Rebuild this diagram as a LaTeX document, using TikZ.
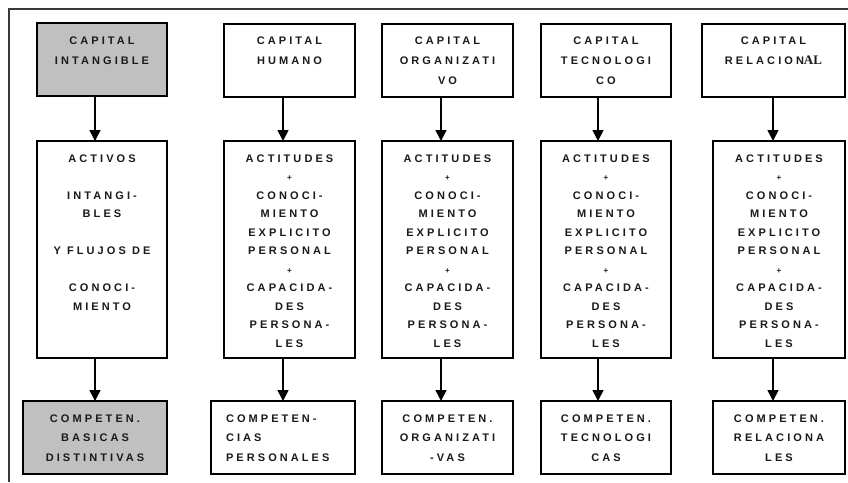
\documentclass[tikz,border=0pt]{standalone}
\usepackage{fontspec}
\usetikzlibrary{arrows.meta}
\newfontfamily\pixfont[LetterSpace=28,BoldFont={Liberation Sans Bold}]{Liberation Sans}
\newfontfamily\serifal{Liberation Serif}
\definecolor{boxgray}{HTML}{C0C0C0}
\definecolor{inkc}{HTML}{1A1A1A}
\definecolor{framec}{HTML}{3A3A3A}
\newcommand\bx[7]{%
  \pgfmathsetmacro\bw{#4-#2}\pgfmathsetmacro\bh{#5-#3}%
  \node[#6] (#1) at ({(#2+#4)/2},{(#3+#5)/2})
    {\parbox[c][\bh pt][t]{\bw pt}{\pixfont\bfseries\fontsize{11}{18.5}\selectfont #7}};}
\newcommand\plusl{{\fontsize{8}{8}\selectfont +}}
\begin{document}
\begin{tikzpicture}[x=1pt,y=-1pt,
  boxw/.style={draw=black,line width=1.6pt,inner sep=0pt,outer sep=0pt,fill=white,text=inkc},
  boxg/.style={boxw,fill=boxgray},
  conn/.style={line width=1.6pt,-{Triangle[width=11pt,length=11pt]}},
  frame/.style={draw=framec,line width=1.6pt}]
\useasboundingbox (0,0) rectangle (848,482);
\draw[frame] (9,482) -- (9,9) -- (848,9);
% top boxes
\bx{t1}{37}{23}{167}{96}{boxg}{\centering\fontsize{11}{20}\selectfont\rule{0pt}{21pt}CAPITAL\\INTANGIBLE}
\bx{t2}{224}{24}{355}{97}{boxw}{\centering\fontsize{11}{20}\selectfont\rule{0pt}{20.5pt}CAPITAL\\HUMANO}
\bx{t3}{382}{24}{513}{97}{boxw}{\centering\fontsize{11}{20}\selectfont\rule{0pt}{20.5pt}CAPITAL\\ORGANIZATI\\VO}
\bx{t4}{541}{24}{671}{97}{boxw}{\centering\fontsize{11}{20}\selectfont\rule{0pt}{20.5pt}CAPITAL\\TECNOLOGI\\CO}
\bx{t5}{702}{24}{845}{97}{boxw}{\centering\fontsize{11}{20}\selectfont\rule{0pt}{20.5pt}CAPITAL\\RELACION{\serifal\fontsize{13}{20}\selectfont AL}}
% middle boxes
\bx{m1}{37}{141}{167}{358}{boxw}{\centering\rule{0pt}{21pt}ACTIVOS\\\mbox{}\\INTANGI-\\BLES\\\mbox{}\\Y FLUJOS DE\\\mbox{}\\CONOCI-\\MIENTO}
\bx{m2}{224}{141}{355}{358}{boxw}{\centering\rule{0pt}{21pt}ACTITUDES\\\plusl\\CONOCI-\\MIENTO\\EXPLICITO\\PERSONAL\\\plusl\\CAPACIDA-\\DES\\PERSONA-\\LES}
\bx{m3}{382}{141}{513}{358}{boxw}{\centering\rule{0pt}{21pt}ACTITUDES\\\plusl\\CONOCI-\\MIENTO\\EXPLICITO\\PERSONAL\\\plusl\\CAPACIDA-\\DES\\PERSONA-\\LES}
\bx{m4}{541}{141}{671}{358}{boxw}{\centering\rule{0pt}{21pt}ACTITUDES\\\plusl\\CONOCI-\\MIENTO\\EXPLICITO\\PERSONAL\\\plusl\\CAPACIDA-\\DES\\PERSONA-\\LES}
\bx{m5}{713}{141}{845}{358}{boxw}{\centering\rule{0pt}{21pt}ACTITUDES\\\plusl\\CONOCI-\\MIENTO\\EXPLICITO\\PERSONAL\\\plusl\\CAPACIDA-\\DES\\PERSONA-\\LES}
% bottom boxes
\bx{b1}{23}{401}{167}{474}{boxg}{\centering\fontsize{11}{19.5}\selectfont\rule{0pt}{21pt}COMPETEN.\\BASICAS\\DISTINTIVAS}
\bx{b2}{211}{401}{355}{474}{boxw}{\raggedright\leftskip=15pt\fontsize{11}{19.5}\selectfont\rule{0pt}{21pt}COMPETEN-\\CIAS\\PERSONALES}
\bx{b3}{382}{401}{513}{474}{boxw}{\centering\fontsize{11}{19.5}\selectfont\rule{0pt}{21pt}COMPETEN.\\ORGANIZATI\\-VAS}
\bx{b4}{541}{401}{671}{474}{boxw}{\centering\fontsize{11}{19.5}\selectfont\rule{0pt}{21pt}COMPETEN.\\TECNOLOGI\\CAS}
\bx{b5}{713}{401}{845}{474}{boxw}{\centering\fontsize{11}{19.5}\selectfont\rule{0pt}{21pt}COMPETEN.\\RELACIONA\\LES}
% arrow columns
\coordinate (c1) at (95,0);
\coordinate (c2) at (283,0);
\coordinate (c3) at (441,0);
\coordinate (c4) at (598,0);
\coordinate (c5) at (773,0);
\foreach \i in {1,...,5}{
  \draw[conn] (t\i.south -| c\i) -- (m\i.north -| c\i);
  \draw[conn] (m\i.south -| c\i) -- (b\i.north -| c\i);
}
\end{tikzpicture}
\end{document}
